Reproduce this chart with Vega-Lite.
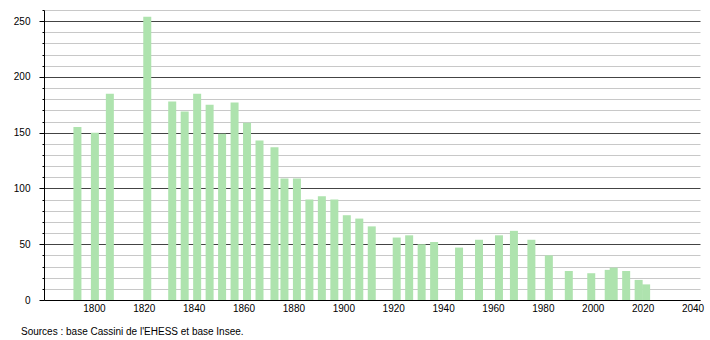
{
  "$schema": "https://vega.github.io/schema/vega-lite/v6.json",
  "autosize": "none",
  "width": 656,
  "height": 290,
  "padding": {"left": 44, "top": 10, "right": 10, "bottom": 40},
  "background": "white",
  "config": {"view": {"stroke": null}, "font": "Liberation Sans"},
  "title": {
    "text": "Sources : base Cassini de l'EHESS et base Insee.",
    "orient": "bottom",
    "anchor": "start",
    "frame": "group",
    "fontSize": 10,
    "fontWeight": "normal",
    "color": "#000",
    "dx": -23,
    "offset": 14
  },
  "data": {
    "values": [
      {"annee": 1793, "population": 155},
      {"annee": 1800, "population": 150},
      {"annee": 1806, "population": 185},
      {"annee": 1821, "population": 254},
      {"annee": 1831, "population": 178},
      {"annee": 1836, "population": 169},
      {"annee": 1841, "population": 185},
      {"annee": 1846, "population": 175},
      {"annee": 1851, "population": 149},
      {"annee": 1856, "population": 177},
      {"annee": 1861, "population": 159},
      {"annee": 1866, "population": 143},
      {"annee": 1872, "population": 137},
      {"annee": 1876, "population": 109},
      {"annee": 1881, "population": 109},
      {"annee": 1886, "population": 90},
      {"annee": 1891, "population": 93},
      {"annee": 1896, "population": 90},
      {"annee": 1901, "population": 76},
      {"annee": 1906, "population": 73},
      {"annee": 1911, "population": 66},
      {"annee": 1921, "population": 56},
      {"annee": 1926, "population": 58},
      {"annee": 1931, "population": 50},
      {"annee": 1936, "population": 52},
      {"annee": 1946, "population": 47},
      {"annee": 1954, "population": 54},
      {"annee": 1962, "population": 58},
      {"annee": 1968, "population": 62},
      {"annee": 1975, "population": 54},
      {"annee": 1982, "population": 40},
      {"annee": 1990, "population": 26},
      {"annee": 1999, "population": 24},
      {"annee": 2006, "population": 27},
      {"annee": 2008, "population": 29},
      {"annee": 2013, "population": 26},
      {"annee": 2018, "population": 18},
      {"annee": 2021, "population": 14}
    ]
  },
  "mark": {"type": "bar", "size": 8, "color": "#aee3ae", "xOffset": 1},
  "encoding": {
    "x": {
      "field": "annee",
      "type": "quantitative",
      "scale": {"domain": [1780, 2043], "nice": false, "zero": false, "padding": 0},
      "axis": {
        "title": null,
        "values": [1800, 1820, 1840, 1860, 1880, 1900, 1920, 1940, 1960, 1980, 2000, 2020, 2040],
        "format": "d",
        "ticks": false,
        "grid": false,
        "domainColor": "#000",
        "labelColor": "#000",
        "labelFontSize": 10,
        "labelPadding": 3,
        "labelFont": "Liberation Sans"
      }
    },
    "y": {
      "field": "population",
      "type": "quantitative",
      "scale": {"domain": [0, 260], "nice": false, "padding": 0},
      "axis": {
        "title": null,
        "values": [0, 10, 20, 30, 40, 50, 60, 70, 80, 90, 100, 110, 120, 130, 140, 150, 160, 170, 180, 190, 200, 210, 220, 230, 240, 250, 260],
        "labelExpr": "datum.value % 50 === 0 ? datum.label : ''",
        "domainColor": "#000",
        "tickColor": "#000",
        "tickSize": {"condition": {"test": "datum.value % 50 === 0", "value": 5}, "value": 2},
        "gridColor": {"condition": {"test": "datum.value % 50 === 0", "value": "#444"}, "value": "#c8c8c8"},
        "gridWidth": 1,
        "labelColor": "#000",
        "labelFontSize": 10,
        "labelPadding": 9,
        "labelFont": "Liberation Sans"
      }
    }
  }
}
